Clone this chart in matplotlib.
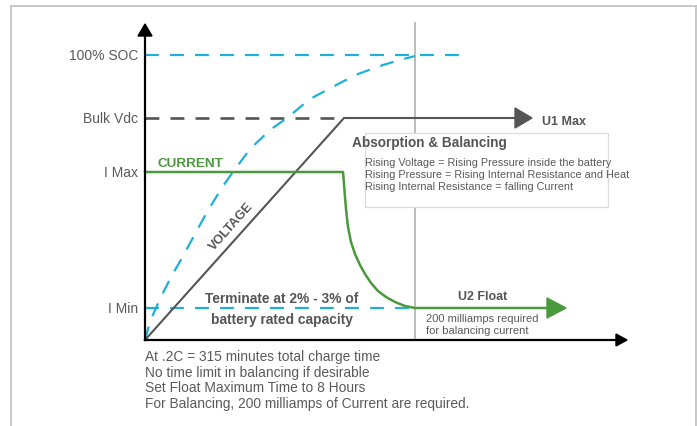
import matplotlib
matplotlib.use("Agg")
import matplotlib.pyplot as plt
from matplotlib.patches import Polygon, Rectangle
from matplotlib.lines import Line2D

plt.rcParams['font.family'] = ['Liberation Sans', 'DejaVu Sans']
plt.rcParams['lines.scale_dashes'] = False

# ---------------- data (chart units: time t, level) ----------------
level_labels = ["100% SOC", "Bulk Vdc", "I Max", "I Min"]
level_values = [285, 222, 168, 32]

voltage_t = [0, 199, 370]
voltage_v = [0, 222, 222]

current_t = [0, 198, 199, 200, 201, 203, 206, 210, 215, 220, 226, 233, 241, 250, 260, 270, 402]
current_v = [168, 168, 156, 143, 131, 113, 98, 86, 75, 66, 57, 49, 43, 38, 34, 32, 32]

soc_t = [0, 3, 7, 15, 25, 38, 50, 62, 78, 88, 105, 125, 142, 165, 195, 213, 238, 255, 270]
soc_v = [0, 11, 23, 41, 61, 84, 106, 128, 154, 168, 191, 210, 222, 241, 257, 266, 275, 280, 284]

soc_line_end = 322
bulk_line_end = 199
imin_line_end = 270
float_start = 270

bottom_notes = [
    "At .2C = 315 minutes total charge time",
    "No time limit in balancing if desirable",
    "Set Float Maximum Time to 8 Hours",
    "For Balancing, 200 milliamps of Current are required.",
]
box_title = "Absorption & Balancing"
box_lines = [
    "Rising Voltage = Rising Pressure inside the battery",
    "Rising Pressure = Rising Internal Resistance and Heat",
    "Rising Internal Resistance = falling Current",
]

# ---------------- styling ----------------
W, H = 697, 427
BLUE = "#1db1d8"
GREEN = "#4a9a3d"
DARK = "#555555"
TXT = "#5a5a5a"

fig = plt.figure(figsize=(W / 100, H / 100), dpi=100)
fig.patch.set_facecolor("white")

x0, y0 = 145, 341          # origin in pixels
xw, yh = 482, 316          # axis lengths in pixels
ax = fig.add_axes([x0 / W, (H - y0) / H, xw / W, yh / H])
ax.set_xlim(0, xw)
ax.set_ylim(0, yh)
ax.axis("off")

# frame around the figure
for xs, ys in [([11, 11], [427, 7]), ([11, 696], [7, 7]), ([696, 696], [7, 427])]:
    fig.add_artist(Line2D([x / W for x in xs], [1 - y / H for y in ys],
                          transform=fig.transFigure, color="#c4c4c4", lw=1.3))

dash = (10, 8)

# reference levels
ax.plot([0, soc_line_end], [level_values[0]] * 2, color=BLUE, lw=1.6, dashes=dash,
        clip_on=False, zorder=2)
ax.plot([0, bulk_line_end], [level_values[1]] * 2, color=DARK, lw=1.9, dashes=dash,
        clip_on=False, zorder=2)
ax.plot([0, imin_line_end], [level_values[3]] * 2, color=BLUE, lw=1.6, dashes=dash,
        clip_on=False, zorder=2)

# vertical phase separator
ax.plot([float_start, float_start], [0, 317], color="#b0b0b0", lw=1.2, zorder=1,
        clip_on=False)

# SOC curve
ax.plot(soc_t, soc_v, color=BLUE, lw=1.6, dashes=dash, clip_on=False, zorder=2)

# voltage line + arrow
ax.plot(voltage_t, voltage_v, color=DARK, lw=1.5, clip_on=False, zorder=3,
        solid_joinstyle="miter")
ax.add_patch(Polygon([[370, 232], [387, 222], [370, 212]], closed=True,
                     color=DARK, clip_on=False, zorder=3))

# current line + arrow
ax.plot(current_t, current_v, color=GREEN, lw=1.8, clip_on=False, zorder=4)
ax.add_patch(Polygon([[402, 42], [421, 32], [402, 22]], closed=True,
                     color=GREEN, clip_on=False, zorder=4))

# axes with arrowheads
ax.plot([0, 0], [0, 305], color="black", lw=1.6, clip_on=False, zorder=5)
ax.plot([0, 472], [0, 0], color="black", lw=1.6, clip_on=False, zorder=5)
ax.add_patch(Polygon([[-7, 304], [0, 316], [7, 304]], closed=True, color="black",
                     clip_on=False, zorder=5))
ax.add_patch(Polygon([[471, 6], [482, 0], [471, -6]], closed=True, color="black",
                     clip_on=False, zorder=5))

# level labels
for lab, v in zip(level_labels, level_values):
    ax.text(-7, v, lab, ha="right", va="center", fontsize=10, color=TXT,
            clip_on=False)

# box
ax.add_patch(Rectangle((220, 133), 243, 74, facecolor="white", edgecolor="#dcdcdc",
                       lw=0.9, zorder=6, clip_on=False))
ax.text(207, 198, box_title, ha="left", va="center", fontsize=9.8,
        fontweight="bold", color=DARK, zorder=7, clip_on=False)
for i, line in enumerate(box_lines):
    ax.text(220, 178 - i * 12, line, ha="left", va="center", fontsize=7.8,
            color=TXT, zorder=7, clip_on=False)

# labels on chart
ax.text(13, 177, "CURRENT", ha="left", va="center", fontsize=9.7, fontweight="bold",
        color=GREEN, clip_on=False)
ax.text(86, 114, "VOLTAGE", ha="center", va="center", fontsize=9.2,
        fontweight="bold", color=DARK, rotation=48.3, rotation_mode="anchor",
        clip_on=False)
ax.text(397, 219, "U1 Max", ha="left", va="center", fontsize=9, fontweight="bold",
        color=DARK, clip_on=False)
ax.text(338, 44, "U2 Float", ha="center", va="center", fontsize=9,
        fontweight="bold", color=DARK, clip_on=False)
ax.text(137, 42, "Terminate at 2% - 3% of", ha="center", va="center", fontsize=9.9,
        fontweight="bold", color=DARK, clip_on=False)
ax.text(137, 21, "battery rated capacity", ha="center", va="center", fontsize=9.9,
        fontweight="bold", color=DARK, clip_on=False)
ax.text(281, 22, "200 milliamps required", ha="left", va="center", fontsize=8,
        color=TXT, clip_on=False)
ax.text(281, 10, "for balancing current", ha="left", va="center", fontsize=8,
        color=TXT, clip_on=False)

for i, line in enumerate(bottom_notes):
    ax.text(0, -16 - i * 15.6, line, ha="left", va="center", fontsize=9.9,
            color=TXT, clip_on=False)

fig.savefig("out.png", dpi=100)
